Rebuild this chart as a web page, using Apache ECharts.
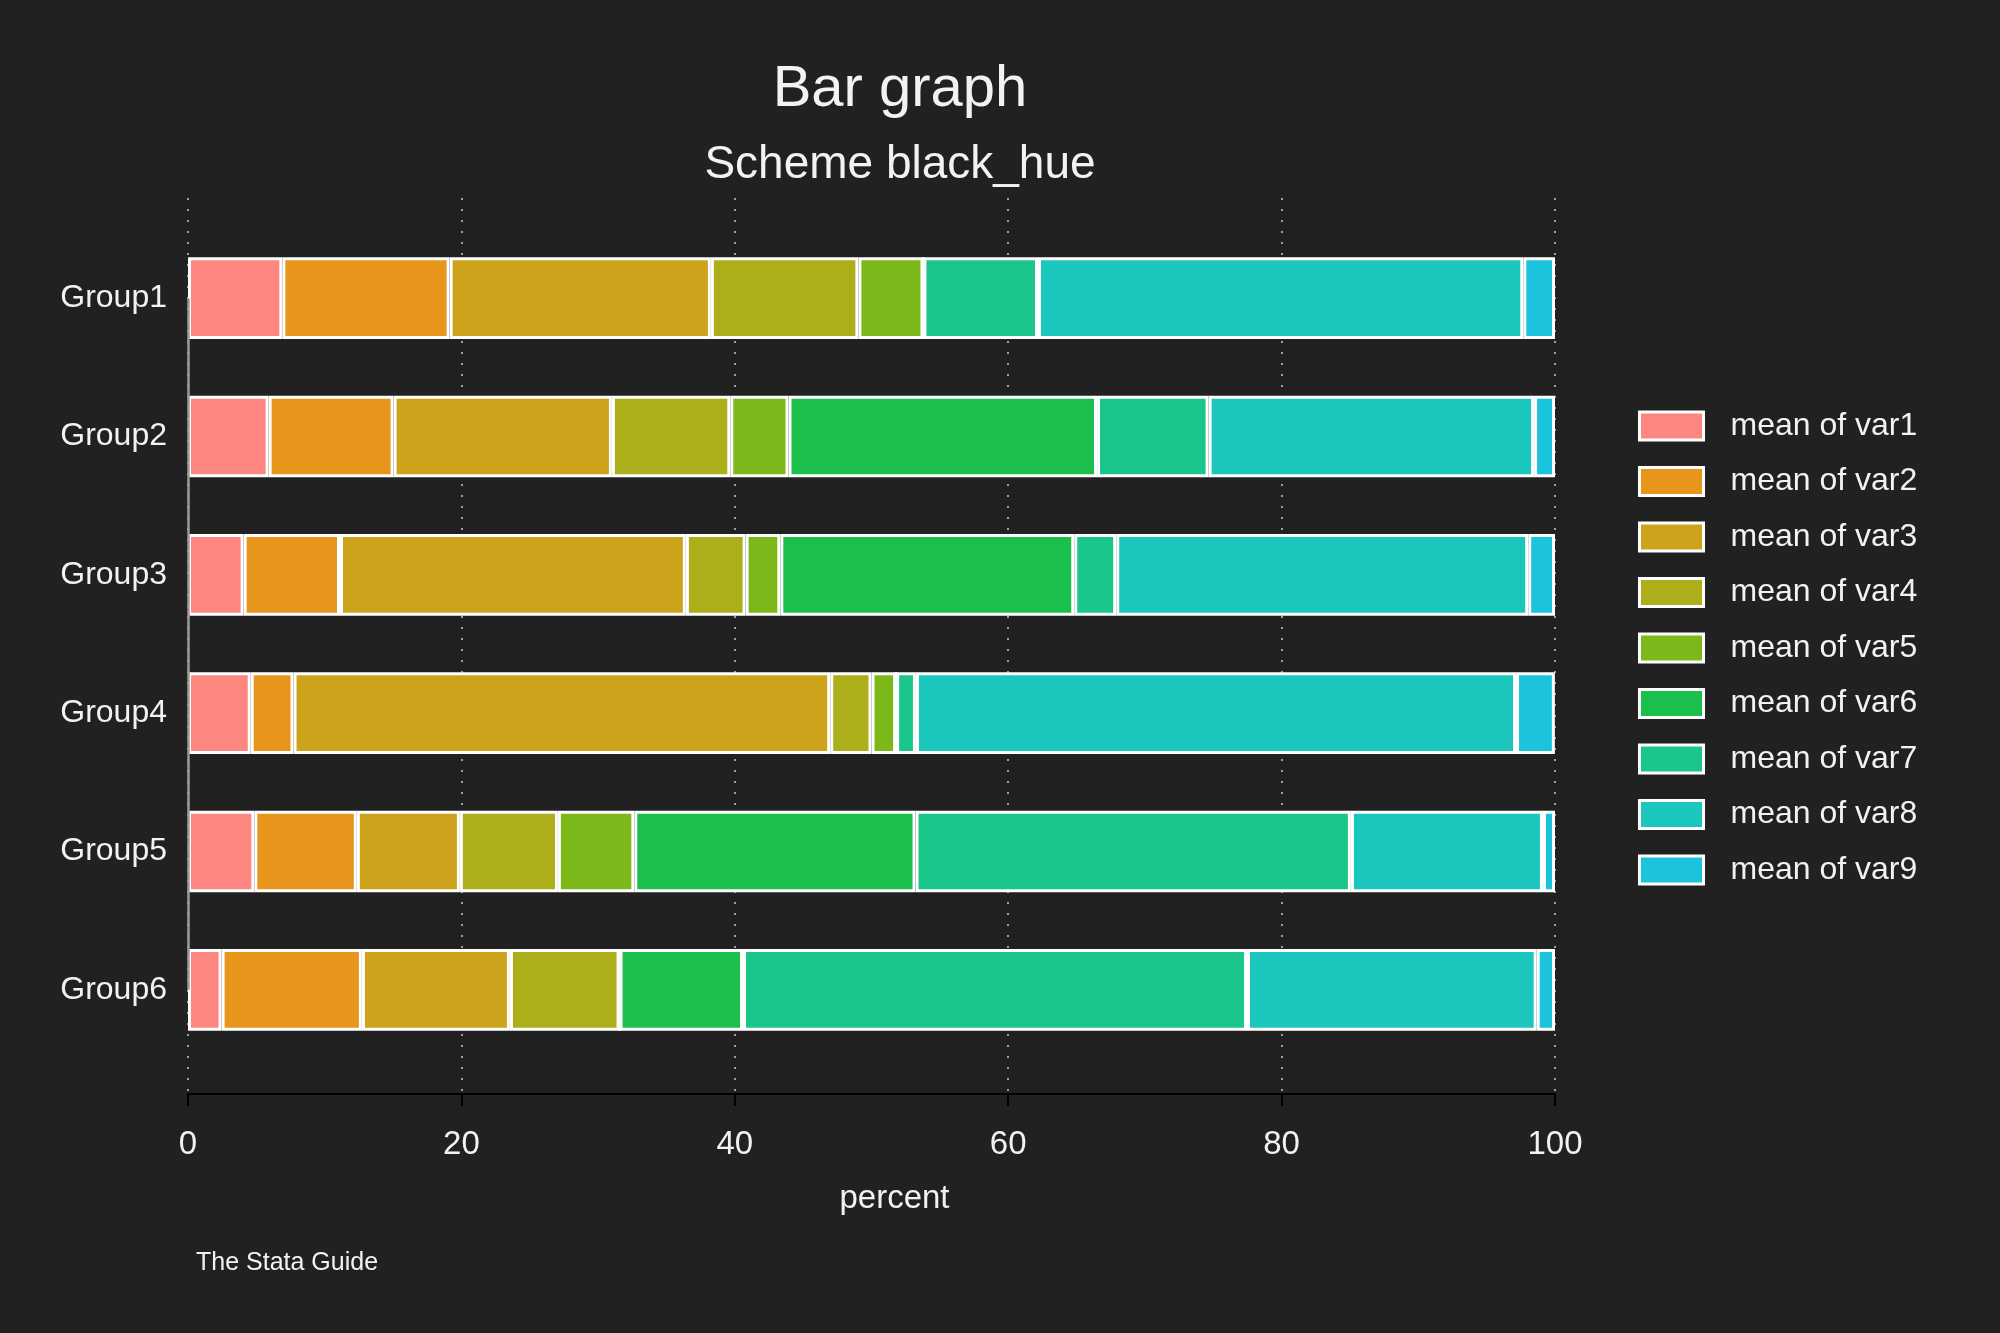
<!DOCTYPE html>
<html><head><meta charset="utf-8">
<style>html,body{margin:0;padding:0;background:#212121;}#c{width:2000px;height:1333px;}</style>
<script src="https://cdn.jsdelivr.net/npm/echarts@6/dist/echarts.min.js"></script>
</head><body><div id="c"></div>
<script>
const groups = ['Group1', 'Group2', 'Group3', 'Group4', 'Group5', 'Group6'];
const seriesNames = ['mean of var1', 'mean of var2', 'mean of var3', 'mean of var4', 'mean of var5',
                     'mean of var6', 'mean of var7', 'mean of var8', 'mean of var9'];
const var1 = [6.90, 5.90, 4.07, 4.59, 4.85, 2.46];
const var2 = [12.24, 9.14, 7.05, 3.13, 7.50, 10.26];
const var3 = [19.11, 15.97, 25.30, 39.26, 7.54, 10.83];
const var4 = [10.79, 8.66, 4.37, 3.02, 7.17, 8.02];
const var5 = [4.76, 4.26, 2.54, 1.80, 5.59, 0];
const var6 = [0, 22.57, 21.50, 0, 20.57, 9.03];
const var7 = [8.38, 8.16, 3.07, 1.45, 31.85, 36.87];
const var8 = [35.50, 23.81, 30.14, 43.90, 14.05, 21.19];
const var9 = [2.32, 1.53, 1.96, 2.84, 0.88, 1.34];
const xTicks = [0, 20, 40, 60, 80, 100];
const colors = ['#FD8780', '#E8951B', '#CDA31B', '#ACAE1A', '#7CB81A', '#1BBF4B', '#1BC68A', '#1BC7BC', '#1BC3DD'];

const allVars = [var1, var2, var3, var4, var5, var6, var7, var8, var9];
const FONT = "'Liberation Sans Narrow', 'Arial Narrow', 'Liberation Sans', Arial, sans-serif";
const TXT = '#f2f2f2';

const series = allVars.map((d, i) => ({
  name: seriesNames[i],
  type: 'bar',
  stack: 'total',
  xAxisIndex: 0,
  yAxisIndex: 0,
  barWidth: '59%',
  data: d,
  itemStyle: { color: colors[i], borderColor: '#ffffff', borderWidth: 3 },
  emphasis: { disabled: true },
  z: 3
}));
// left (category) axis line spanning first to last category
series[0].markLine = {
  silent: true,
  symbol: 'none',
  label: { show: false },
  lineStyle: { color: '#9a9a9a', width: 2.5, type: 'solid' },
  data: [[{ coord: [0, groups[0]] }, { coord: [0, groups[groups.length - 1]] }]],
  z: 4
};

const chart = echarts.init(document.getElementById('c'));
chart.setOption({
  backgroundColor: '#212121',
  animation: false,
  color: colors,
  title: [
    { text: 'Bar graph', left: 895, top: 56, textAlign: 'center',
      textStyle: { color: TXT, fontFamily: FONT, fontSize: 58, fontWeight: 'normal', lineHeight: 58 } },
    { text: 'Scheme black_hue', left: 895, top: 137, textAlign: 'center',
      textStyle: { color: TXT, fontFamily: FONT, fontSize: 46, fontWeight: 'normal', lineHeight: 46 } }
  ],
  legend: {
    orient: 'vertical',
    left: 1633,
    top: 405,
    itemWidth: 64,
    itemHeight: 28,
    itemGap: 23.5,
    icon: 'rect',
    data: seriesNames,
    itemStyle: { borderColor: '#ffffff', borderWidth: 3 },
    textStyle: { color: TXT, fontFamily: FONT, fontSize: 32, lineHeight: 32, padding: [0, 0, 0, 22] }
  },
  grid: [
    { left: 188, right: 445, top: 229, bottom: 274 },
    { left: 188, right: 445, top: 198, bottom: 239 }
  ],
  xAxis: [
    { type: 'value', gridIndex: 0, min: 0, max: 100, show: false },
    { type: 'value', gridIndex: 1, min: xTicks[0], max: xTicks[xTicks.length - 1], interval: 20,
      axisLine: { show: true, lineStyle: { color: '#000000', width: 2 } },
      axisTick: { show: true, length: 12, lineStyle: { color: '#000000', width: 2 } },
      axisLabel: { color: TXT, fontFamily: FONT, fontSize: 33, margin: 34 },
      splitLine: { show: true, lineStyle: { color: '#a0a0a0', width: 2, type: [2, 9] } },
      name: 'percent', nameLocation: 'middle', nameGap: 88,
      nameTextStyle: { color: TXT, fontFamily: FONT, fontSize: 33, padding: [0, 0, 0, 46] } }
  ],
  yAxis: [
    { type: 'category', gridIndex: 0, data: groups, inverse: true,
      axisLine: { show: false }, axisTick: { show: false },
      axisLabel: { color: TXT, fontFamily: FONT, fontSize: 32, margin: 21, padding: [8, 0, 0, 0] } },
    { type: 'value', gridIndex: 1, show: false }
  ],
  graphic: [
    { type: 'text', left: 196, top: 1251,
      style: { text: 'The Stata Guide', fill: TXT, font: "25px " + FONT } }
  ],
  series: series
});
</script>
</body></html>
